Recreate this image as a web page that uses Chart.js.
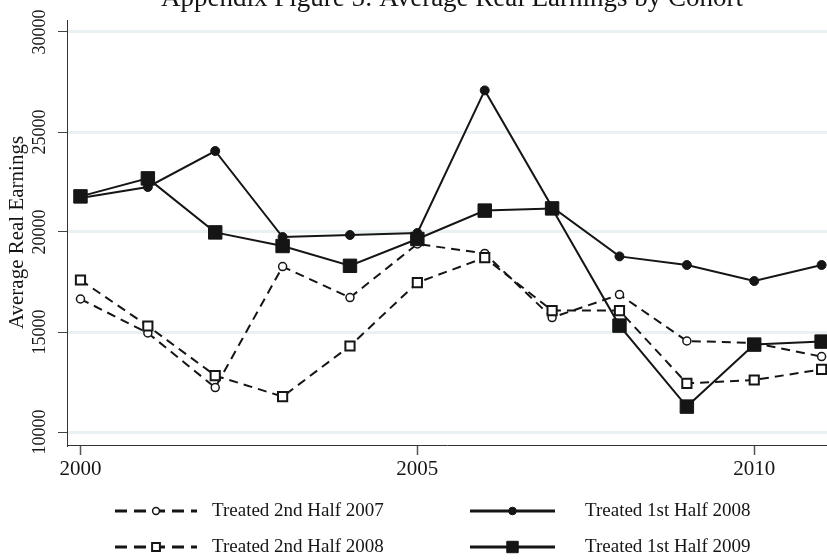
<!DOCTYPE html>
<html>
<head>
<meta charset="utf-8">
<script src="https://cdn.jsdelivr.net/npm/chart.js@4/dist/chart.umd.min.js"></script>
<style>
  html, body { margin: 0; padding: 0; background: #fff; }
  #wrap { width: 827px; height: 560px; }
</style>
</head>
<body>
<div id="wrap"><canvas id="chart" width="827" height="560"></canvas></div>
<script>
const titleText = 'Appendix Figure 5: Average Real Earnings by Cohort'
const yAxisTitle = 'Average Real Earnings'

const years = [2000, 2001, 2002, 2003, 2004, 2005, 2006, 2007, 2008, 2009, 2010, 2011]
const treated2nd2007 = [16650, 14950, 12220, 18270, 16720, 19400, 18930, 15720, 16870, 14550, 14450, 13770]
const treated1st2008 = [21700, 22250, 24050, 19750, 19850, 19950, 27080, 21250, 18780, 18350, 17550, 18350]
const treated2nd2008 = [17600, 15300, 12820, 11770, 14300, 17470, 18720, 16070, 16070, 12430, 12600, 13130]
const treated1st2009 = [21780, 22680, 19980, 19300, 18310, 19650, 21070, 21180, 15320, 11270, 14370, 14520]

const seriesNames = ['Treated 2nd Half 2007', 'Treated 1st Half 2008', 'Treated 2nd Half 2008', 'Treated 1st Half 2009']
const xTicks = [2000, 2005, 2010]
const yTicks = [10000, 15000, 20000, 25000, 30000]

const serif = "'Liberation Serif', 'Times New Roman', serif"
const ink = '#151515'

Chart.defaults.font.family = serif
Chart.defaults.color = ink

function points(values) {
  return years.map((yr, i) => ({x: yr, y: values[i]}))
}

function series(label, values, dashed, style, radius, filled, borderWidth, order) {
  return {
    label: label,
    data: points(values),
    borderColor: ink,
    borderWidth: 2,
    borderDash: dashed ? [9, 6] : [],
    pointStyle: style,
    pointRadius: radius,
    pointHoverRadius: radius,
    pointBorderWidth: borderWidth,
    pointBorderColor: ink,
    pointBackgroundColor: filled ? ink : '#fff',
    tension: 0,
    fill: false,
    clip: false,
    order: order
  }
}

// title + two-column legend with line samples
const decorations = {
  id: 'decorations',
  afterDraw(chart) {
    const ctx = chart.ctx
    ctx.save()
    ctx.fillStyle = ink
    ctx.font = '27px ' + serif
    ctx.textAlign = 'center'
    ctx.textBaseline = 'alphabetic'
    ctx.fillText(titleText, 452, 6)

    const cols = [{x0: 115, x1: 197, tx: 212}, {x0: 470, x1: 555, tx: 585}]
    const rows = [511, 547]
    chart.data.datasets.forEach((ds, i) => {
      const c = cols[i % 2]
      const y = rows[Math.floor(i / 2)]
      ctx.strokeStyle = ink
      ctx.lineWidth = 3
      ctx.setLineDash(ds.borderDash.length ? [12, 7] : [])
      ctx.beginPath()
      ctx.moveTo(c.x0, y)
      ctx.lineTo(c.x1, y)
      ctx.stroke()
      ctx.setLineDash([])
      ctx.fillStyle = ds.pointBackgroundColor
      ctx.strokeStyle = ds.pointBorderColor
      ctx.lineWidth = ds.pointBorderWidth
      Chart.helpers.drawPoint(ctx, {
        pointStyle: ds.pointStyle,
        radius: ds.pointRadius * 0.85,
        borderWidth: ds.pointBorderWidth,
        rotation: 0
      }, (c.x0 + c.x1) / 2, y)
      ctx.fillStyle = ink
      ctx.font = '19px ' + serif
      ctx.textAlign = 'left'
      ctx.textBaseline = 'middle'
      ctx.fillText(ds.label, c.tx, y)
    })
    ctx.restore()
  }
}

const config = {
  type: 'line',
  data: {
    datasets: [
      series(seriesNames[0], treated2nd2007, true, 'circle', 4, false, 1.5, 4),
      series(seriesNames[1], treated1st2008, false, 'circle', 4.5, true, 1, 3),
      series(seriesNames[2], treated2nd2008, true, 'rect', 6.5, false, 2, 2),
      series(seriesNames[3], treated1st2009, false, 'rect', 9.5, true, 1, 1)
    ]
  },
  options: {
    responsive: false,
    devicePixelRatio: 1,
    animation: false,
    layout: {autoPadding: false, padding: {top: 20, right: 0, bottom: 0, left: 0}},
    plugins: {
      legend: {display: false},
      title: {display: false},
      tooltip: {enabled: false}
    },
    scales: {
      x: {
        type: 'linear',
        min: 1999.8,
        max: 2011.08,
        afterBuildTicks: s => { s.ticks = xTicks.map(v => ({value: v})) },
        afterFit: s => { s.height = 115 },
        grid: {drawOnChartArea: false, drawTicks: true, tickLength: 10, tickColor: '#555', tickWidth: 1.5},
        border: {display: true, color: '#333', width: 1},
        ticks: {
          autoSkip: false,
          maxRotation: 0,
          padding: 2,
          color: ink,
          font: {size: 21},
          callback: v => String(v)
        }
      },
      y: {
        type: 'linear',
        min: 9350,
        max: 30600,
        afterBuildTicks: s => { s.ticks = yTicks.map(v => ({value: v})) },
        afterFit: s => { s.width = 67 },
        grid: {color: '#eaf1f3', lineWidth: 3, drawTicks: true, tickLength: 9, tickColor: '#444', tickWidth: 1},
        border: {display: true, color: '#333', width: 1},
        ticks: {
          autoSkip: false,
          minRotation: 90,
          maxRotation: 90,
          crossAlign: 'center',
          padding: -4.5,
          color: ink,
          font: {size: 18},
          callback: v => String(v)
        },
        title: {
          display: true,
          text: yAxisTitle,
          color: ink,
          font: {size: 21},
          padding: {top: 5, bottom: 0}
        }
      }
    }
  },
  plugins: [decorations]
}

new Chart(document.getElementById('chart'), config)
</script>
</body>
</html>
